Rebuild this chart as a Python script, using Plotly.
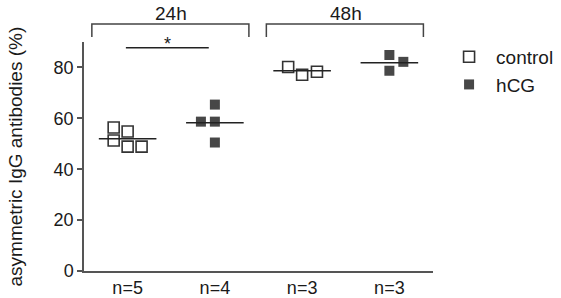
import plotly.graph_objects as go

# ---- data ----
tick_labels = ["n=5", "n=4", "n=3", "n=3"]
group_pos = [0, 1, 2, 3]
control_24h = [56.4, 54.8, 51.3, 48.9, 48.9]
control_24h_jitter = [-0.16, 0.0, -0.16, 0.0, 0.16]
hcg_24h = [65.4, 58.7, 58.7, 50.5]
hcg_24h_jitter = [0.0, -0.16, 0.0, 0.0]
control_48h = [80.2, 77.1, 78.3]
control_48h_jitter = [-0.16, 0.0, 0.17]
hcg_48h = [84.9, 82.2, 78.7]
hcg_48h_jitter = [0.0, 0.16, 0.0]
group_lines = [52.0, 58.3, 78.7, 81.8]
time_labels = ["24h", "48h"]
y_ticks = [0, 20, 40, 60, 80]

FONT = "Liberation Sans, Arial, sans-serif"
TXT = "#1a1a1a"
AX = "#555555"
FILL = "#474747"

fig = go.Figure()

ctrl_marker = dict(symbol="square-open", size=11, color="#333333", line=dict(width=1.6))
hcg_marker = dict(symbol="square", size=10, color=FILL, line=dict(width=0))

fig.add_trace(go.Scatter(
    x=[group_pos[0] + j for j in control_24h_jitter], y=control_24h,
    mode="markers", marker=ctrl_marker, name="control", legendgroup="c", showlegend=True))
fig.add_trace(go.Scatter(
    x=[group_pos[1] + j for j in hcg_24h_jitter], y=hcg_24h,
    mode="markers", marker=hcg_marker, name="hCG", legendgroup="h", showlegend=True))
fig.add_trace(go.Scatter(
    x=[group_pos[2] + j for j in control_48h_jitter], y=control_48h,
    mode="markers", marker=ctrl_marker, name="control", legendgroup="c", showlegend=False))
fig.add_trace(go.Scatter(
    x=[group_pos[3] + j for j in hcg_48h_jitter], y=hcg_48h,
    mode="markers", marker=hcg_marker, name="hCG", legendgroup="h", showlegend=False))

# group mean/median lines
for p, m in zip(group_pos, group_lines):
    fig.add_trace(go.Scatter(x=[p - 0.33, p + 0.33], y=[m, m], mode="lines",
                             line=dict(color="#222222", width=1.5),
                             showlegend=False, hoverinfo="skip"))

# significance bar
fig.add_trace(go.Scatter(x=[-0.02, 0.93], y=[87.7, 87.7], mode="lines",
                         line=dict(color="#222222", width=1.5),
                         showlegend=False, hoverinfo="skip"))
fig.add_annotation(x=0.455, xref="x", y=0.99, yref="paper", text="*", showarrow=False,
                   font=dict(family=FONT, size=18, color=TXT), yanchor="middle")

# time brackets
centers = [0.5, 2.5]
for c, lab in zip(centers, time_labels):
    x0, x1 = c - 0.91, c + 0.89
    fig.add_shape(type="path", xref="x", yref="paper",
                  path=f"M {x0},1.022 L {x0},1.0786 L {x1},1.0786 L {x1},1.022",
                  line=dict(color="#444444", width=1.5))
    fig.add_annotation(x=c, xref="x", y=1.125, yref="paper", text=lab, showarrow=False,
                       font=dict(family=FONT, size=19, color=TXT), yanchor="middle")

# y axis title
fig.add_annotation(x=0, xref="paper", xshift=-69, y=0.5, yref="paper",
                   text="asymmetric IgG antibodies (%)", textangle=-90, showarrow=False,
                   font=dict(family=FONT, size=19, color=TXT), xanchor="center", yanchor="middle")

fig.update_layout(
    width=561, height=298,
    margin=dict(l=84, r=128, t=42, b=27, autoexpand=False),
    paper_bgcolor="white", plot_bgcolor="white",
    font=dict(family=FONT, color=TXT),
    showlegend=True,
    legend=dict(x=1.026, xanchor="left", y=1.018, yanchor="top",
                font=dict(family=FONT, size=19, color=TXT),
                itemwidth=44, tracegroupgap=0, bgcolor="rgba(0,0,0,0)"),
    xaxis=dict(range=[-0.5, 3.5], tickvals=group_pos, ticktext=tick_labels,
               showgrid=False, zeroline=False, showline=True, linecolor=AX, linewidth=1.5,
               ticks="", automargin=False, tickfont=dict(family=FONT, size=18, color=TXT)),
    yaxis=dict(range=[0, 90], tickvals=y_ticks, showgrid=False, zeroline=False,
               showline=True, linecolor=AX, linewidth=1.5, ticks="outside", ticklen=5,
               tickwidth=1.5, tickcolor=AX, automargin=False,
               tickfont=dict(family=FONT, size=18, color=TXT)),
)

fig.write_html("out.html", config={"displayModeBar": False},
               post_script="document.body.style.margin='0';document.body.style.overflow='hidden';")
